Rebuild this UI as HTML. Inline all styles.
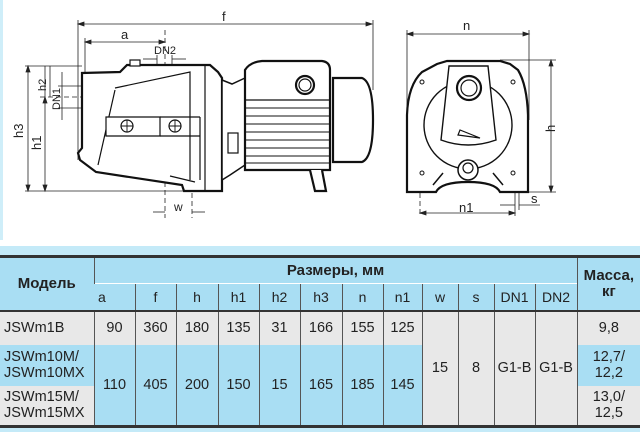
<!DOCTYPE html>
<html><head><meta charset="utf-8">
<style>
html,body{margin:0;padding:0;background:#fff;}
body{width:640px;height:432px;position:relative;overflow:hidden;font-family:"Liberation Sans",sans-serif;}
#bg{position:absolute;left:0;top:246px;width:640px;height:186px;background:#c4eaf8;}
table{position:absolute;left:0;top:255px;width:640px;border-collapse:collapse;table-layout:fixed;border-top:3px solid #333;border-bottom:3px solid #333;}
td{border-left:1px solid #555;text-align:center;font-size:14.5px;color:#222;padding:0;line-height:16px;}
td:first-child{border-left:none;text-align:left;padding-left:4px;}
.h td{background:#a9def3;font-weight:bold;font-size:15px;}
.h2 td{background:#a9def3;font-weight:normal;font-size:14px;border-top:1px solid #fff;}
.g{background:#e8e8e8;}
.b{background:#a9def3;}
.top td{border-top:2px solid #333;}
</style></head><body>
<svg width="640" height="250" style="position:absolute;left:0;top:0" xmlns="http://www.w3.org/2000/svg">
<rect x="0" y="0" width="3" height="240" fill="#cfeef9"/>
<g stroke="#222" fill="none" stroke-width="0.8">
<line x1="78" y1="24" x2="372" y2="24"/><line x1="78" y1="20" x2="78" y2="160"/><line x1="373" y1="20" x2="373" y2="90"/>
<path d="M78 24 l6 -2 v4z M372 24 l-6 -2 v4z" fill="#222"/>
<line x1="85" y1="42" x2="165" y2="42"/><line x1="85" y1="38" x2="85" y2="72"/>
<path d="M85 42 l6 -2 v4z M165 42 l-6 -2 v4z" fill="#222"/>
<line x1="165" y1="30" x2="165" y2="218" stroke-dasharray="5,3"/>
<line x1="143" y1="59" x2="157" y2="59"/><line x1="172" y1="59" x2="186" y2="59"/>
<line x1="157" y1="55" x2="157" y2="66"/><line x1="172" y1="55" x2="172" y2="66"/>
<line x1="25" y1="66" x2="82" y2="66"/><line x1="25" y1="191" x2="185" y2="191"/>
<line x1="28" y1="66" x2="28" y2="191"/><path d="M28 66 l-2 6 h4z M28 191 l-2 -6 h4z" fill="#222"/>
<line x1="45" y1="66" x2="45" y2="191"/><path d="M45 97 l-2 6 h4z M45 191 l-2 -6 h4z" fill="#222"/>
<line x1="40" y1="97" x2="95" y2="97" stroke-dasharray="5,3"/>
<line x1="50" y1="66" x2="50" y2="97"/>
<line x1="62" y1="72" x2="62" y2="120"/><line x1="58" y1="86" x2="82" y2="86"/><line x1="58" y1="108" x2="82" y2="108"/>
<line x1="192" y1="185" x2="192" y2="218" stroke-dasharray="5,3"/>
<line x1="153" y1="212" x2="165" y2="212"/><line x1="192" y1="212" x2="205" y2="212"/>
</g>
<g stroke="#111" fill="#fff" stroke-width="2.2">
<path d="M82 73 L120 72 L127 65 L210 65 L218 72 L222 78 L222 191 L184 191 L182 185 L96 172 L80 160 L78 153 L82 148 Z"/>
<path d="M115 88 L190 72 L190 82 M98 165 L115 90 M190 82 L190 180" fill="none" stroke-width="1.2"/>
<path d="M106 117 L160 117 L160 136 L106 136 Z" stroke-width="1.2"/>
<circle cx="127" cy="126" r="6" stroke-width="1.2"/><circle cx="175" cy="126" r="6" stroke-width="1.2"/>
<path d="M121 126h12M127 120v12M169 126h12M175 120v12" stroke-width="0.9"/>
<path d="M160 117 L200 117 M160 136 L200 136 M200 117 L200 180 M170 176 L195 182" fill="none" stroke-width="1.2"/>
<rect x="130" y="60" width="10" height="6" stroke-width="1.2"/>
<path d="M205 66 L205 191" fill="none" stroke-width="1.2"/>
<path d="M222 80 L232 84 L245 78 L245 165 L230 175 L222 180 Z" stroke-width="1.5"/>
<rect x="228" y="133" width="10" height="20" stroke-width="1.2"/>
<path d="M245 70 Q250 62 262 61 L322 61 Q330 62 330 70 L330 170 L245 170 Z"/>
<path d="M245 100 L330 100" fill="none" stroke-width="1.2"/>
<path d="M245 108h85M245 116h85M245 124h85M245 132h85M245 140h85M245 148h85M245 156h85M245 163h85" fill="none" stroke-width="0.9"/>
<circle cx="305" cy="85" r="9"/><circle cx="305" cy="85" r="6" stroke-width="1.2"/>
<path d="M333 78 L362 78 Q373 82 373 120 Q373 158 362 162 L333 162 Z"/>
<path d="M310 170 L315 191 L326 191 L322 170" />
</g>
<g font-family="Liberation Sans,sans-serif" font-size="13" fill="#222">
<text x="222" y="21">f</text><text x="121" y="39">a</text>
<text x="154" y="54" font-size="11">DN2</text>
<text x="174" y="211" font-size="12">w</text>
<text transform="translate(23,138) rotate(-90)" font-size="13">h3</text>
<text transform="translate(41,150) rotate(-90)" font-size="13">h1</text>
<text transform="translate(46,91) rotate(-90)" font-size="11">h2</text>
<text transform="translate(60,110) rotate(-90)" font-size="11">DN1</text>
<text x="463" y="30">n</text><text x="459" y="212">n1</text><text x="531" y="203">s</text>
<text transform="translate(555,132) rotate(-90)">h</text>
</g>
<g stroke="#222" fill="none" stroke-width="0.8">
<line x1="407" y1="34" x2="529" y2="34"/><path d="M407 34 l6 -2 v4z M529 34 l-6 -2 v4z" fill="#222"/>
<line x1="407" y1="30" x2="407" y2="120"/><line x1="529" y1="30" x2="529" y2="120"/>
<line x1="500" y1="60" x2="556" y2="60"/><line x1="528" y1="192" x2="556" y2="192"/>
<line x1="551" y1="60" x2="551" y2="192"/><path d="M551 60 l-2 6 h4z M551 192 l-2 -6 h4z" fill="#222"/>
<line x1="420" y1="185" x2="420" y2="216" stroke-dasharray="5,3"/>
<line x1="420" y1="213" x2="515" y2="213"/><path d="M420 213 l6 -2 v4z M515 213 l-6 -2 v4z" fill="#222"/>
<line x1="515" y1="185" x2="515" y2="216"/><line x1="519" y1="185" x2="519" y2="210"/>
<line x1="500" y1="205" x2="515" y2="205"/><line x1="519" y1="205" x2="540" y2="205"/>
</g>
<g stroke="#111" fill="#fff" stroke-width="2.2">
<path d="M407 192 L407 115 Q408 85 422 72 L437 64 L447 61 L500 61 L510 64 L518 70 Q527 85 528 115 L528 192 L500 192 Q495 182 468 182 Q441 182 436 192 Z"/>
<circle cx="468" cy="125" r="44" stroke-width="1.4"/>
<path d="M449 66 L488 66 L496 140 Q468 150 441 140 Z" stroke-width="1.4"/>
<circle cx="469" cy="88" r="12"/><circle cx="469" cy="88" r="8" stroke-width="1.2"/>
<path d="M458 135 L480 138 L460 130 Z" stroke-width="1.2"/>
<circle cx="468" cy="170" r="10" stroke-width="1.5"/><circle cx="468" cy="168" r="5" stroke-width="1.2"/>
<circle cx="422" cy="82" r="2" stroke-width="1"/><circle cx="513" cy="82" r="2" stroke-width="1"/>
<circle cx="422" cy="173" r="2" stroke-width="1"/><circle cx="513" cy="173" r="2" stroke-width="1"/>
<path d="M433 185 L443 173 M503 185 L493 173" fill="none" stroke-width="1.5"/>
</g>
</svg>
<div id="bg"></div>
<table>
<colgroup><col style="width:94px"><col style="width:41px"><col style="width:41px"><col style="width:42px"><col style="width:41px"><col style="width:41px"><col style="width:42px"><col style="width:41px"><col style="width:39px"><col style="width:36px"><col style="width:36px"><col style="width:41px"><col style="width:42px"><col style="width:63px"></colgroup>
<tr class="h" style="height:27px"><td rowspan="2" style="text-align:center;padding:0">Модель</td><td colspan="12">Размеры, мм</td><td rowspan="2" style="text-align:center">Масса,<br>кг</td></tr>
<tr class="h2" style="height:27px"><td>a</td><td>f</td><td>h</td><td>h1</td><td>h2</td><td>h3</td><td>n</td><td>n1</td><td>w</td><td>s</td><td>DN1</td><td>DN2</td></tr>
<tr class="top g" style="height:34px"><td>JSWm1B</td><td>90</td><td>360</td><td>180</td><td>135</td><td>31</td><td>166</td><td>155</td><td>125</td><td rowspan="3" class="g">15</td><td rowspan="3" class="g">8</td><td rowspan="3" class="g">G1-B</td><td rowspan="3" class="g">G1-B</td><td>9,8</td></tr>
<tr style="height:41px"><td class="b">JSWm10M/<br>JSWm10MX</td><td rowspan="2" class="b">110</td><td rowspan="2" class="b">405</td><td rowspan="2" class="b">200</td><td rowspan="2" class="b">150</td><td rowspan="2" class="b">15</td><td rowspan="2" class="b">165</td><td rowspan="2" class="b">185</td><td rowspan="2" class="b">145</td><td class="b">12,7/<br>12,2</td></tr>
<tr style="height:41px"><td class="g">JSWm15M/<br>JSWm15MX</td><td class="g">13,0/<br>12,5</td></tr>
</table>
</body></html>
